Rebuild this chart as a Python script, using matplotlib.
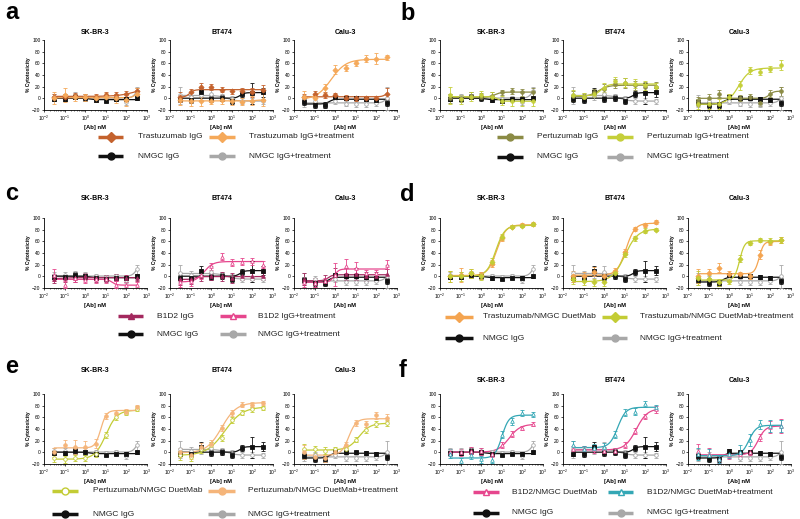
import numpy as np
import matplotlib
matplotlib.use("Agg")
import matplotlib.pyplot as plt
from matplotlib.lines import Line2D
from matplotlib.ticker import LogLocator, NullFormatter

plt.rcParams['font.family'] = ['Liberation Sans', 'DejaVu Sans']

# ---- data (mean % cytotoxicity, SD), rows = SK-BR-3, BT474, Calu-3 ----
conc_nM = [0.032, 0.1, 0.32, 1, 3.2, 10, 32, 100, 320]
cell_lines = ["SK-BR-3", "BT474", "Calu-3"]

nmgc_igg = [[-1, -1, 3, 0, -3, -4, -2, -2, 0],
            [-2, -3, 10, -1, 1, -4, 8, 9, 10],
            [-6, -11, -12, 3, 0, 0, -1, -3, -8]]
nmgc_igg_err = [[4, 4, 5, 4, 3, 3, 3, 3, 3],
                [5, 5, 8, 5, 5, 5, 5, 18, 8],
                [5, 5, 5, 3, 3, 3, 3, 3, 5]]
nmgc_tx = [[2, 2, 4, 3, 0, -1, 0, -7, 12],
           [5, 3, 5, 7, 2, -2, -4, -5, -5],
           [-5, -5, -11, -5, -9, -10, -10, -8, 0]]
nmgc_tx_err = [[6, 6, 6, 5, 4, 4, 4, 5, 8],
               [15, 6, 8, 10, 6, 6, 5, 5, 4],
               [10, 5, 5, 5, 5, 5, 5, 5, 20]]

trast_igg = [[3, 3, 4, 3, 3, 5, 5, 7, 12],
             [2, 10, 20, 20, 15, 12, 12, 10, 15],
             [2, 8, 5, 5, 1, 0, 0, 0, 8]]
trast_igg_err = [[5, 5, 5, 5, 5, 5, 5, 5, 6],
                 [8, 6, 6, 5, 4, 4, 5, 8, 8],
                 [5, 5, 5, 4, 4, 4, 4, 4, 10]]
trast_igg_tx = [[0, 5, 2, 2, 0, 3, 0, -3, 8],
                [-3, -5, -5, -4, -3, -5, -6, -4, -3],
                [3, 0, 17, 49, 52, 60, 68, 68, 70]]
trast_igg_tx_err = [[10, 12, 6, 6, 6, 6, 8, 10, 10],
                    [8, 8, 8, 6, 6, 6, 6, 8, 10],
                    [10, 6, 8, 8, 5, 4, 6, 10, 4]]

pert_igg = [[0, 0, 4, 3, 4, 10, 12, 10, 10],
            [4, 2, 10, 16, 25, 26, 22, 20, 20],
            [-5, 0, 8, 2, 0, 3, -8, 8, 12]]
pert_igg_err = [[8, 6, 6, 6, 6, 5, 5, 6, 8],
                [8, 6, 6, 8, 8, 8, 8, 8, 8],
                [8, 8, 6, 5, 5, 5, 5, 6, 8]]
pert_igg_tx = [[5, -2, 3, 5, 3, -4, -5, -5, -5],
               [5, 3, 8, 18, 29, 27, 25, 22, 20],
               [-10, -10, -10, 2, 22, 48, 45, 50, 57]]
pert_igg_tx_err = [[15, 8, 8, 8, 8, 8, 8, 8, 8],
                   [10, 6, 6, 8, 8, 8, 8, 8, 6],
                   [8, 8, 8, 6, 8, 6, 5, 5, 8]]

b1d2_igg = [[-4, -3, -3, 0, -3, -3, -2, -3, -2],
            [-5, -5, 0, 0, 0, -3, 0, 0, 0],
            [-5, -10, -6, 4, 4, 4, 0, 0, 4]]
b1d2_igg_err = [[8, 6, 6, 6, 6, 6, 6, 6, 6],
                [10, 8, 8, 6, 8, 8, 6, 6, 6],
                [10, 8, 8, 10, 10, 10, 8, 8, 8]]
b1d2_igg_tx = [[2, -14, -3, -6, -5, -5, -14, -15, -15],
               [-10, -8, 3, 17, 34, 23, 25, 26, 20],
               [-10, -12, -8, 3, 18, 15, 5, 5, 20]]
b1d2_igg_tx_err = [[10, 6, 6, 6, 6, 6, 6, 6, 6],
                   [8, 8, 8, 6, 6, 6, 6, 6, 6],
                   [8, 6, 6, 20, 12, 10, 6, 6, 8]]

trast_duet = [[0, 2, 5, 2, 22, 66, 85, 88, 90],
              [0, 0, 8, 0, 9, 41, 81, 88, 93],
              [0, 5, 15, 4, 4, 0, 37, 58, 62]]
trast_duet_err = [[10, 12, 8, 6, 6, 5, 3, 3, 3],
                  [10, 8, 8, 8, 5, 5, 4, 4, 3],
                  [12, 8, 8, 5, 4, 4, 8, 5, 5]]
trast_duet_tx = [[0, 0, 5, 0, 25, 68, 85, 87, 89],
                 [-5, -8, -10, -10, 6, 38, 65, 78, 80],
                 [-3, -5, -10, -8, 30, 57, 62, 60, 62]]
trast_duet_tx_err = [[10, 8, 8, 6, 6, 5, 3, 3, 3],
                     [8, 6, 6, 6, 5, 5, 4, 4, 3],
                     [12, 8, 6, 5, 6, 4, 4, 5, 5]]

pert_duet = [[-10, -12, -10, -10, -3, 30, 60, 68, 75],
             [-5, -8, 5, 12, 25, 55, 68, 74, 76],
             [5, 5, 3, 5, 5, 22, 39, 48, 50]]
pert_duet_err = [[6, 6, 5, 5, 5, 5, 5, 4, 4],
                 [8, 6, 6, 6, 5, 5, 4, 4, 3],
                 [10, 6, 6, 5, 5, 5, 5, 5, 5]]
pert_duet_tx = [[0, 12, 10, 10, 15, 62, 68, 70, 78],
                [0, -5, 10, 15, 42, 68, 82, 82, 85],
                [1, -8, -10, 0, 13, 51, 48, 64, 59]]
pert_duet_tx_err = [[8, 10, 12, 10, 8, 5, 4, 4, 4],
                    [8, 6, 6, 6, 5, 5, 4, 4, 3],
                    [12, 6, 6, 5, 5, 5, 5, 6, 6]]

b1d2_duet = [[0, 0, 3, 2, -3, 13, 31, 42, 49],
             [5, 5, 5, 3, 3, 13, 37, 62, 74],
             [2, -2, -12, -5, -3, 0, 26, 44, 45]]
b1d2_duet_err = [[6, 6, 6, 6, 5, 5, 5, 4, 3],
                 [6, 6, 6, 6, 5, 5, 5, 4, 6],
                 [12, 10, 6, 6, 5, 4, 6, 10, 12]]
b1d2_duet_tx = [[-2, -15, -5, -12, -13, 30, 53, 68, 65],
                [12, 5, 8, 10, 30, 68, 70, 83, 77],
                [-3, -5, -12, -3, 0, 21, 48, 45, 45]]
b1d2_duet_tx_err = [[8, 6, 6, 6, 6, 6, 6, 5, 5],
                    [8, 6, 6, 6, 6, 6, 6, 5, 5],
                    [10, 10, 6, 6, 12, 10, 8, 10, 10]]

# colours
BLACK = '#111111'
GRAY = '#a8a8a8'

# (letter, group, row, [(data, err, colour, marker, filled, label) x2])
panels = [
    ("a", 0, 0, [(trast_igg, trast_igg_err, '#c4622d', 'D', True, "Trastuzumab IgG"),
                 (trast_igg_tx, trast_igg_tx_err, '#f5a95a', 'D', True, "Trastuzumab IgG+treatment")]),
    ("b", 1, 0, [(pert_igg, pert_igg_err, '#8b8b45', 'o', True, "Pertuzumab IgG"),
                 (pert_igg_tx, pert_igg_tx_err, '#c5cf3a', 'o', True, "Pertuzumab IgG+treatment")]),
    ("c", 0, 1, [(b1d2_igg, b1d2_igg_err, '#a3285e', '^', True, "B1D2 IgG"),
                 (b1d2_igg_tx, b1d2_igg_tx_err, '#e6468d', '^', False, "B1D2 IgG+treatment")]),
    ("d", 1, 1, [(trast_duet, trast_duet_err, '#f4a450', 'D', True, "Trastuzumab/NMGC DuetMab"),
                 (trast_duet_tx, trast_duet_tx_err, '#c3cc35', 'D', True, "Trastuzumab/NMGC DuetMab+treatment")]),
    ("e", 0, 2, [(pert_duet, pert_duet_err, '#c3cc35', 'o', False, "Pertuzumab/NMGC DuetMab"),
                 (pert_duet_tx, pert_duet_tx_err, '#f5b57a', 'o', True, "Pertuzumab/NMGC DuetMab+treatment")]),
    ("f", 1, 2, [(b1d2_duet, b1d2_duet_err, '#e6468d', '^', False, "B1D2/NMGC DuetMab"),
                 (b1d2_duet_tx, b1d2_duet_tx_err, '#34a7b5', '^', False, "B1D2/NMGC DuetMab+treatment")]),
]

W, H = 800, 519
fig = plt.figure(figsize=(W / 100, H / 100), dpi=100)


def fx(x):
    return x / W


def fy(y):
    return 1 - y / H


# layout (pixels)
group_lefts = [[44, 170, 294], [440, 563, 688]]
ax_w, ax_h = 103, 70
row_tops = [40, 218, 394]
title_y = {"a": 32, "b": 32, "c": 199, "d": 199, "e": 371, "f": 381}
letter_xy = {"a": (5, 19), "b": (400, 20), "c": (5, 200), "d": (400, 201), "e": (5, 373), "f": (399, 377)}
legend_pos = {
    "a": ((137, 156), (98, 123, 138), (209, 235, 249)),
    "b": ((137, 157), (497, 523, 537), (607, 633, 647)),
    "c": ((316, 334), (118, 143, 157), (220, 246, 258)),
    "d": ((317, 338), (445, 473, 483), (602, 627, 640)),
    "e": ((491, 514), (52, 78, 93), (208, 235, 248)),
    "f": ((492, 513), (473, 499, 512), (608, 633, 647)),
}


def fit_curve(x, y):
    # simple 4-parameter logistic fit: grid over EC50/hill, linear lstsq for bottom/top
    lx = np.log10(x)
    y = np.asarray(y, float)
    best = None
    for le in np.linspace(lx[0], lx[-1], 81):
        for h in np.linspace(0.6, 4, 18):
            s = 1 / (1 + 10 ** ((le - lx) * h))
            A = np.column_stack([1 - s, s])
            coef = np.linalg.lstsq(A, y, rcond=None)[0]
            sse = np.sum((A @ coef - y) ** 2)
            if best is None or sse < best[0]:
                best = (sse, le, h, coef)
    _, le, h, (bot, top) = best
    xs = np.logspace(lx[0], lx[-1], 200)
    s = 1 / (1 + 10 ** ((le - np.log10(xs)) * h))
    return xs, bot + (top - bot) * s


def draw_series(ax, y, err, color, marker, filled):
    ax.errorbar(conc_nM, y, yerr=err, fmt=marker, color=color, ms=2.6,
                mfc=color if filled else 'white', mec=color, mew=0.6,
                elinewidth=0.6, capsize=1.3, capthick=0.6, zorder=3)
    xs, ys = fit_curve(conc_nM, y)
    ax.plot(xs, ys, color=color, lw=0.9, zorder=2)


def style_axes(ax):
    ax.set_xscale('log')
    ax.set_xlim(1e-2, 1e3)
    ax.set_ylim(-20, 100)
    ax.set_yticks(range(-20, 101, 20))
    ax.xaxis.set_major_locator(LogLocator(base=10, numticks=10))
    ax.xaxis.set_minor_locator(LogLocator(base=10, subs=np.arange(2, 10), numticks=20))
    ax.xaxis.set_minor_formatter(NullFormatter())
    for side in ['top', 'right']:
        ax.spines[side].set_visible(False)
    for side in ['left', 'bottom']:
        ax.spines[side].set_linewidth(0.6)
    ax.tick_params(labelsize=3.5, length=1.6, width=0.5, pad=1)
    ax.tick_params(which='minor', length=1.0, width=0.4)
    ax.set_ylabel("% Cytotoxicity", fontsize=3.6, fontweight='bold', labelpad=1)
    ax.set_xlabel("[Ab] nM", fontsize=4.2, fontweight='bold', labelpad=1.5)


def legend_item(x0, x1, y, color, marker, filled, label, tx):
    fig.add_artist(Line2D([fx(x0), fx(x1)], [fy(y), fy(y)], transform=fig.transFigure,
                          color=color, lw=2.5, solid_capstyle='butt'))
    fig.add_artist(Line2D([fx((x0 + x1) / 2)], [fy(y)], transform=fig.transFigure,
                          color=color, marker=marker, ms=5, mew=1.0,
                          mfc=color if filled else 'white', mec=color))
    fig.text(fx(tx), fy(y), label, fontsize=6, va='center', ha='left', color='#222222')


for letter, group, row, series in panels:
    for i, cell in enumerate(cell_lines):
        left = group_lefts[group][i]
        top = row_tops[row]
        ax = fig.add_axes([fx(left), fy(top + ax_h), ax_w / W, ax_h / H])
        draw_series(ax, nmgc_tx[i], nmgc_tx_err[i], GRAY, 'o', False)
        draw_series(ax, nmgc_igg[i], nmgc_igg_err[i], BLACK, 's', True)
        for data, err, color, marker, filled, label in series:
            draw_series(ax, data[i], err[i], color, marker, filled)
        style_axes(ax)
        fig.text(fx(left + ax_w / 2), fy(title_y[letter]), cell, fontsize=5,
                 fontweight='bold', ha='center', va='center')
    lx, ly = letter_xy[letter]
    fig.text(fx(lx), fy(ly), letter, fontsize=17, fontweight='bold', ha='left', va='baseline')

    rows_y, col1, col2 = legend_pos[letter]
    (d1, e1, c1, m1, f1, l1), (d2, e2, c2, m2, f2, l2) = series
    legend_item(col1[0], col1[1], rows_y[0], c1, m1, f1, l1, col1[2])
    legend_item(col2[0], col2[1], rows_y[0], c2, m2, f2, l2, col2[2])
    legend_item(col1[0], col1[1], rows_y[1], BLACK, 'o', True, "NMGC IgG", col1[2])
    legend_item(col2[0], col2[1], rows_y[1], GRAY, 'o', True, "NMGC IgG+treatment", col2[2])

fig.savefig("out.png", dpi=100)
